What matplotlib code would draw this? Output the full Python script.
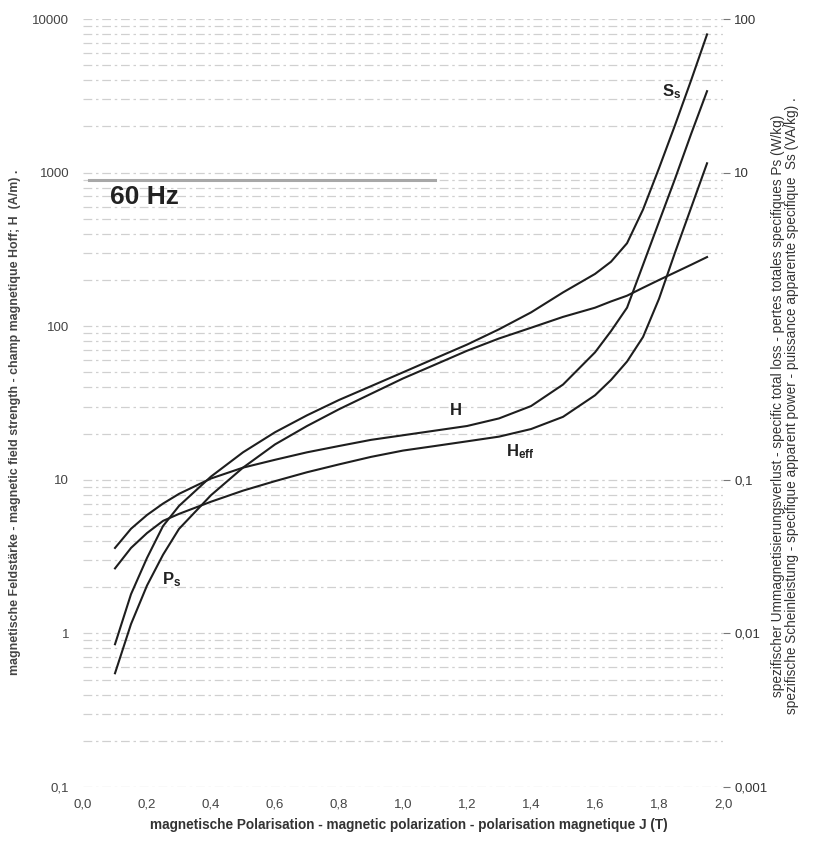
import matplotlib
matplotlib.use("Agg")
import matplotlib.pyplot as plt
from matplotlib.ticker import LogLocator, NullFormatter, NullLocator

plt.rcParams['font.family'] = ['Liberation Sans', 'DejaVu Sans']
plt.rcParams['mathtext.fontset'] = 'custom'
plt.rcParams['mathtext.rm'] = 'Liberation Sans'
plt.rcParams['mathtext.bf'] = 'Liberation Sans:bold'

# magnetic polarization J (T)
J = [0.1, 0.15, 0.2, 0.25, 0.3, 0.4, 0.5, 0.6, 0.7, 0.8, 0.9, 1.0, 1.1, 1.2,
     1.3, 1.4, 1.5, 1.6, 1.65, 1.7, 1.75, 1.8, 1.85, 1.9, 1.95]

# field strength (A/m), left axis
H_peak = [3.6, 4.8, 5.9, 7.0, 8.1, 10.2, 12.0, 13.5, 15.1, 16.6, 18.2, 19.5, 20.9, 22.4,
          25.1, 30.2, 41.7, 67.6, 93, 132, 251, 479, 912, 1780, 3390]
H_eff = [2.65, 3.6, 4.5, 5.4, 6.0, 7.2, 8.5, 9.8, 11.2, 12.6, 14.1, 15.5, 16.6, 17.8,
         19.1, 21.4, 25.7, 35.5, 44.7, 58.9, 85.1, 151, 302, 589, 1150]

# specific loss (W/kg) and apparent power (VA/kg), right axis
P_s = [0.0055, 0.0115, 0.0205, 0.0325, 0.0479, 0.0794, 0.120, 0.170, 0.224, 0.288, 0.363,
       0.457, 0.562, 0.692, 0.832, 0.977, 1.15, 1.32, 1.45, 1.58, 1.78, 2.00, 2.24, 2.51, 2.82]
S_s = [0.0085, 0.018, 0.031, 0.050, 0.0676, 0.105, 0.151, 0.204, 0.263, 0.331, 0.407,
       0.501, 0.617, 0.759, 0.955, 1.23, 1.66, 2.19, 2.63, 3.47, 5.75, 10.7, 20.4, 39.8, 79.4]

x_ticks = [0.0, 0.2, 0.4, 0.6, 0.8, 1.0, 1.2, 1.4, 1.6, 1.8, 2.0]
x_labels = ["0,0", "0,2", "0,4", "0,6", "0,8", "1,0", "1,2", "1,4", "1,6", "1,8", "2,0"]
left_ticks = [10000, 1000, 100, 10, 1, 0.1]
left_labels = ["10000", "1000", "100", "10", "1", "0,1"]
right_ticks = [100, 10, 0.1, 0.01, 0.001]
right_labels = ["100", "10", "0,1", "0,01", "0,001"]

fig = plt.figure(figsize=(8.17, 8.65), dpi=100)
ax = fig.add_axes([0.1016, 0.0902, 0.7834, 0.8878])
ax2 = ax.twinx()

ax.set_yscale("log")
ax.set_ylim(0.1, 10000)
ax.set_xlim(0, 2.0)
ax2.set_yscale("log")
ax2.set_ylim(0.001, 100)

# faint scanned-looking grid
ax.yaxis.set_minor_locator(LogLocator(base=10, subs=range(1, 10)))
ax.yaxis.set_minor_formatter(NullFormatter())
ax.grid(which="both", axis="y", color="#d0d0d0", lw=0.9, linestyle=(0, (7, 3, 2, 3)))
ax.axhline(900, xmin=0.01, xmax=0.55, color="#a8a8a8", lw=2.2)

line_kw = dict(color="#1e1e1e", lw=1.5)
ax.plot(J, H_peak, **line_kw)
ax.plot(J, H_eff, **line_kw)
ax2.plot(J, P_s, **line_kw)
ax2.plot(J, S_s, **line_kw)

for a in (ax, ax2):
    for s in a.spines.values():
        s.set_visible(False)

ax.set_xticks(x_ticks)
ax.set_xticklabels(x_labels)
ax.set_yticks(left_ticks)
ax.set_yticklabels(left_labels)
ax.tick_params(axis="both", which="both", length=0, labelsize=9.5, labelcolor="#444444")
ax.tick_params(axis="y", pad=10)
ax.tick_params(axis="x", pad=8)

ax2.set_yticks(right_ticks)
ax2.set_yticklabels(right_labels)
ax2.yaxis.set_minor_locator(NullLocator())
ax2.yaxis.set_minor_formatter(NullFormatter())
ax2.tick_params(axis="y", which="major", length=5, color="#777777", pad=3,
                labelsize=9.5, labelcolor="#333333")

# curve labels
ax.text(0.085, 690, "60 Hz", fontsize=19, fontweight="bold", color="#222222", va="center")
ax.text(1.84, 3350, r"$\mathbf{S_s}$", fontsize=12, color="#222222", ha="center", va="center")
ax.text(1.163, 28.5, r"$\mathbf{H}$", fontsize=12, color="#222222", ha="center", va="center")
ax.text(1.366, 15.2, r"$\mathbf{H_{eff}}$", fontsize=12, color="#222222", ha="center", va="center")
ax.text(0.278, 2.23, r"$\mathbf{P_s}$", fontsize=12, color="#222222", ha="center", va="center")

fig.text(0.5, 0.046,
         "magnetische Polarisation - magnetic polarization - polarisation magnetique J (T)",
         fontsize=9.8, fontweight="bold", color="#333333", ha="center", va="center")
fig.text(0.018, 0.512,
         "magnetische Feldstärke - magnetic field strength - champ magnetique Hoff; H  (A/m) .",
         rotation=90, fontsize=8.9, fontweight="bold", color="#444444", ha="center", va="center")
fig.text(0.961, 0.531,
         "spezifischer Ummagnetisierungsverlust - specific total loss - pertes totales specifiques Ps (W/kg)\n"
         "spezifische Scheinleistung - specifique apparent power - puissance apparente specifique  Ss (VA/kg) .",
         rotation=90, fontsize=9.8, color="#333333", ha="center", va="center", linespacing=1.0)

fig.savefig("out.png", dpi=100)
